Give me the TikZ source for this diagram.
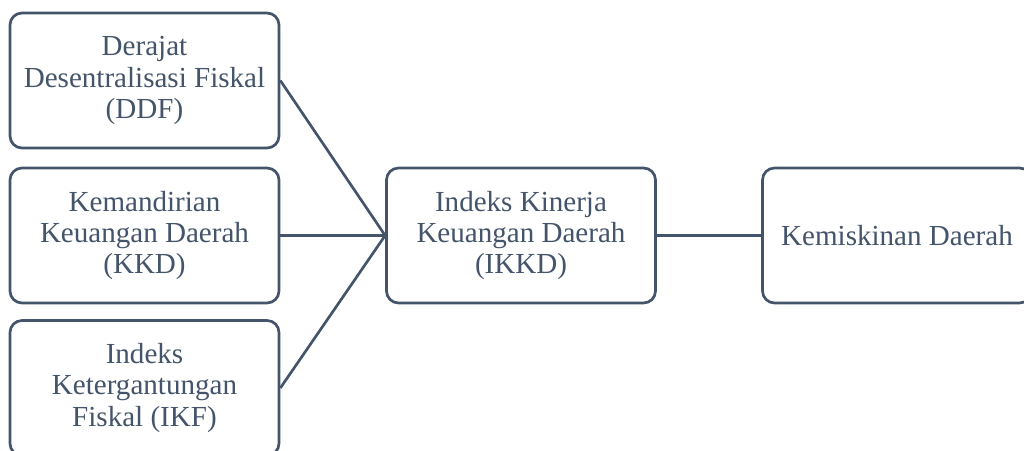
\documentclass[tikz,border=0pt]{standalone}
\usepackage{fontspec}
\setmainfont{Liberation Serif}
\definecolor{slate}{HTML}{44546A}
\begin{document}
\begin{tikzpicture}[x=0.75pt,y=-0.75pt,
  box/.style={draw=slate,line width=2pt,rounded corners=9pt,fill=white,
    minimum width=201.75pt,minimum height=101.25pt,inner sep=0pt,
    align=center,text=slate,font=\fontsize{21.8}{23.3}\selectfont},
  link/.style={draw=slate,line width=2pt}]
\useasboundingbox (0,0) rectangle (1024,450);
\clip (0,0) rectangle (1024,450);
\node[box] (ddf) at (144.5,80.5) {Derajat\\Desentralisasi Fiskal\\(DDF)};
\node[box] (kkd) at (144.5,235.5) {Kemandirian\\Keuangan Daerah\\(KKD)};
\node[box] (ikf) at (144.5,388) {Indeks\\Ketergantungan\\Fiskal (IKF)};
\node[box] (ikkd) at (521,235.5) {Indeks Kinerja\\Keuangan Daerah\\(IKKD)};
\node[box] (kem) at (897,235.5) {Kemiskinan Daerah};
\draw[link] (ddf.east) -- (ikkd.west);
\draw[link] (kkd.east) -- (ikkd.west);
\draw[link] (ikf.east) -- (ikkd.west);
\draw[link] (ikkd.east) -- (kem.west);
\end{tikzpicture}
\end{document}
